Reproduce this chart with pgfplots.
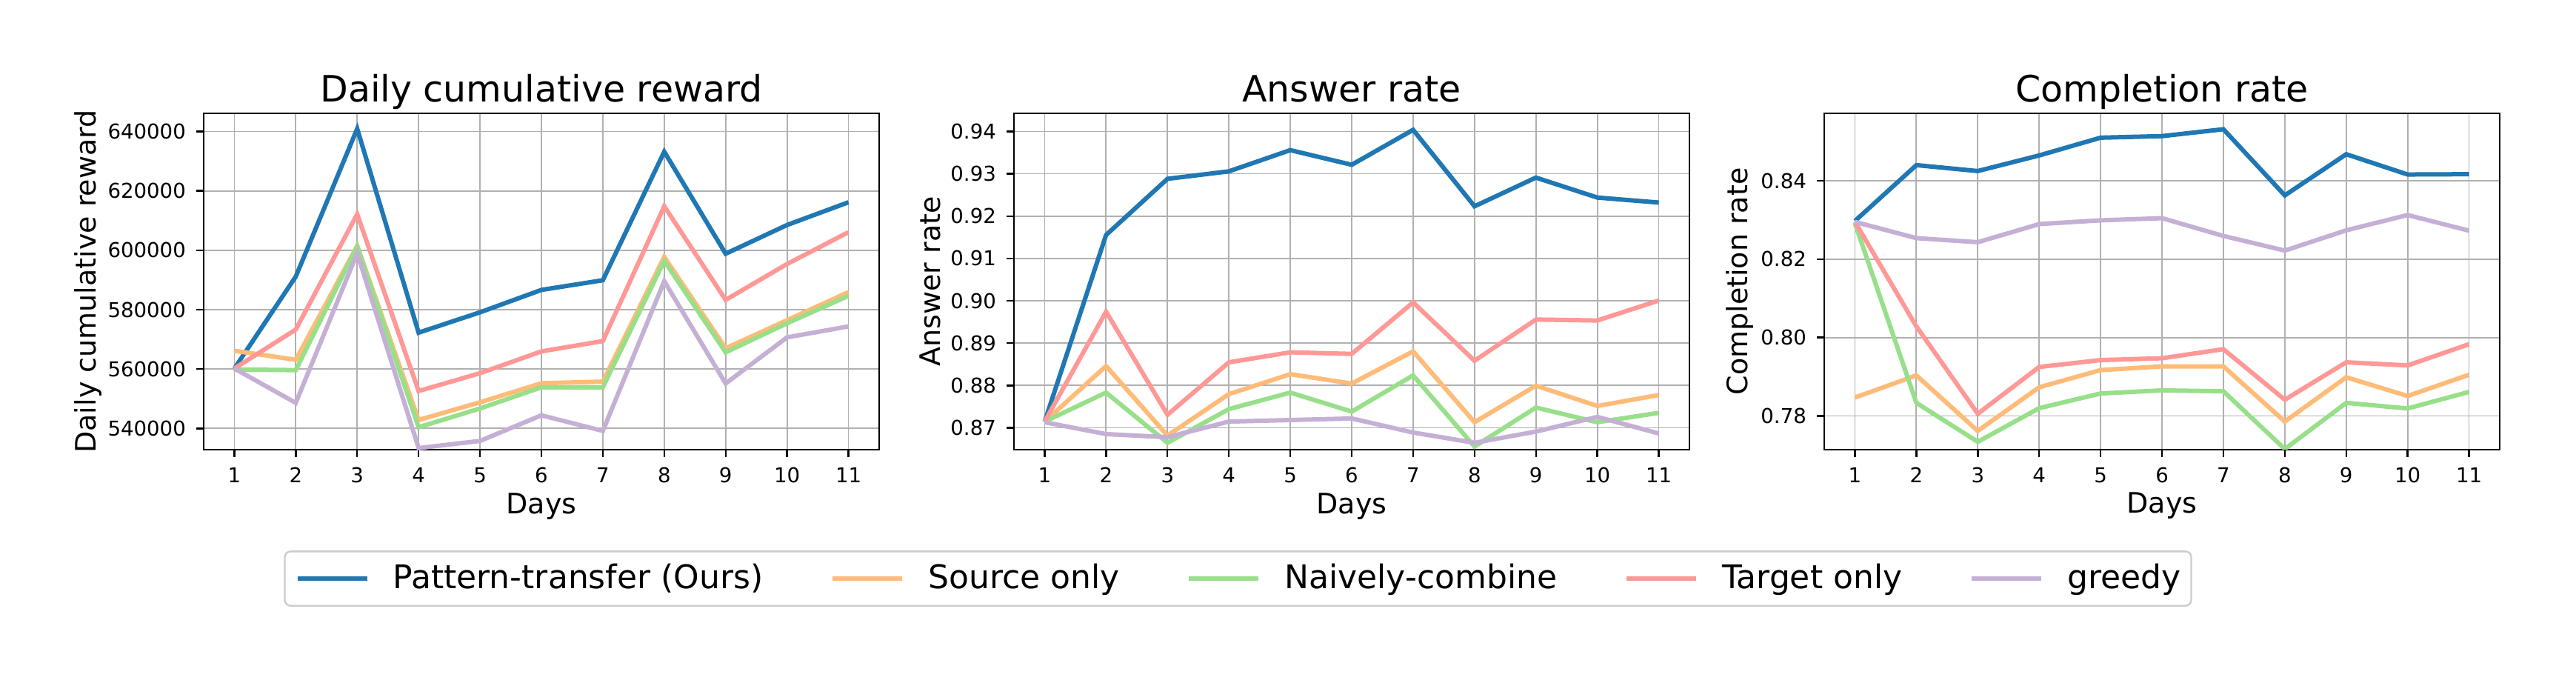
\documentclass[border=0pt]{standalone}
\usepackage{fontspec}
\setmainfont{DejaVu Sans}
\usepackage{pgfplots}
\pgfplotsset{compat=1.18}
\definecolor{cblue}{HTML}{1F77B4}
\definecolor{corange}{HTML}{FFBB78}
\definecolor{cgreen}{HTML}{98DF8A}
\definecolor{cred}{HTML}{FF9896}
\definecolor{cpurple}{HTML}{C5B0D5}
\definecolor{cgrid}{HTML}{B0B0B0}
\pgfplotsset{
 panel/.style={
  scale only axis, width=228pt, height=113.5pt, anchor=north west,
  xmin=0.5, xmax=11.5, xtick={1,...,11},
  grid=major, major grid style={line width=0.45pt, draw=cgrid},
  axis line style={line width=0.65pt},
  tick align=outside, tick pos=left, major tick length=2.5pt,
  every tick/.style={black, line width=0.6pt},
  tick label style={font=\fontsize{6.9}{8}\selectfont},
  /pgf/number format/assume math mode=true,
  title style={font=\fontsize{12.25}{14}\selectfont, anchor=base, at={(axis description cs:0.5,1)}, yshift=-2.25pt},
  xlabel style={font=\fontsize{9.5}{11}\selectfont, at={([yshift=-21.5pt]axis description cs:0.5,0)}, anchor=base},
  xlabel=Days,
  every axis plot/.append style={line width=1.5pt},
 }
}
\begin{document}
\begin{tikzpicture}
\path[use as bounding box] (0,0) rectangle (869.5pt,230.25pt);
% Panel 1
\begin{axis}[panel, at={(68.75pt,192pt)},
  title={Daily cumulative reward},
  ylabel={Daily cumulative reward},
  ylabel style={font=\fontsize{9.5}{11}\selectfont, at={([xshift=-39pt]axis description cs:0,0.5)}, anchor=center},
  ymin=532860, ymax=646090,
  ytick={540000,560000,580000,600000,620000,640000},
  scaled y ticks=false,
  yticklabel style={/pgf/number format/.cd, fixed, 1000 sep={}},
]
\addplot[cblue] coordinates {(1,560170)(2,591150)(3,640900)(4,572250)(5,579100)(6,586640)(7,589900)(8,633170)(9,598830)(10,608500)(11,616150)};
\addplot[corange] coordinates {(1,566160)(2,563110)(3,601500)(4,542840)(5,548800)(6,555230)(7,555760)(8,597770)(9,566990)(10,576450)(11,585900)};
\addplot[cgreen] coordinates {(1,559850)(2,559640)(3,601340)(4,540420)(5,546720)(6,553860)(7,553860)(8,596410)(9,565630)(10,575400)(11,584640)};
\addplot[cred] coordinates {(1,560200)(2,573300)(3,612160)(4,552600)(5,558600)(6,565950)(7,569410)(8,614800)(9,583280)(10,595360)(11,606070)};
\addplot[cpurple] coordinates {(1,560170)(2,548610)(3,599030)(4,533390)(5,535800)(6,544420)(7,539170)(8,589580)(9,555130)(10,570670)(11,574350)};
\end{axis}
% Panel 2
\begin{axis}[panel, at={(342.25pt,192pt)},
  title={Answer rate},
  ylabel={Answer rate},
  ylabel style={font=\fontsize{9.5}{11}\selectfont, at={([xshift=-28.25pt]axis description cs:0,0.5)}, anchor=center},
  ymin=0.86484, ymax=0.94427,
  ytick={0.87,0.88,0.89,0.90,0.91,0.92,0.93,0.94},
  yticklabel style={/pgf/number format/.cd, fixed, fixed zerofill, precision=2},
  legend columns=5,
  legend style={at={(0.3317,-0.3833)}, anchor=center, draw=black!20, rounded corners=2pt, line width=0.6pt,
    inner xsep=3.5pt, inner ysep=4.25pt, font=\fontsize{11}{13}\selectfont, nodes={inner sep=0pt},
    /tikz/every odd column/.append style={column sep=8pt},
    /tikz/every even column/.append style={column sep=22.75pt}},
  legend image code/.code={\draw[#1, line width=1.5pt, sharp corners] (0pt,0pt) -- (23.5pt,0pt);},
]
\addplot[cblue] coordinates {(1,0.87147)(2,0.91554)(3,0.9288)(4,0.93057)(5,0.93558)(6,0.93212)(7,0.94037)(8,0.92232)(9,0.92909)(10,0.92438)(11,0.9232)};
\addplot[corange] coordinates {(1,0.87147)(2,0.88459)(3,0.86816)(4,0.87796)(5,0.88267)(6,0.88046)(7,0.88805)(8,0.87132)(9,0.87995)(10,0.87516)(11,0.87774)};
\addplot[cgreen] coordinates {(1,0.87147)(2,0.87832)(3,0.86646)(4,0.87442)(5,0.87832)(6,0.87383)(7,0.88238)(8,0.86558)(9,0.87479)(10,0.87132)(11,0.87353)};
\addplot[cred] coordinates {(1,0.8715)(2,0.89741)(3,0.87309)(4,0.88547)(5,0.88783)(6,0.88746)(7,0.89962)(8,0.88584)(9,0.89557)(10,0.89535)(11,0.90006)};
\addplot[cpurple] coordinates {(1,0.87132)(2,0.86852)(3,0.86779)(4,0.87147)(5,0.87184)(6,0.87221)(7,0.86889)(8,0.86646)(9,0.86911)(10,0.87258)(11,0.86867)};
\legend{Pattern-transfer (Ours), Source only, Naively-combine, Target only, greedy}
\end{axis}
% Panel 3
\begin{axis}[panel, at={(615.75pt,192pt)},
  title={Completion rate},
  ylabel={Completion rate},
  ylabel style={font=\fontsize{9.5}{11}\selectfont, at={([xshift=-28.5pt]axis description cs:0,0.5)}, anchor=center},
  ymin=0.77141, ymax=0.85719,
  ytick={0.78,0.80,0.82,0.84},
  yticklabel style={/pgf/number format/.cd, fixed, fixed zerofill, precision=2},
]
\addplot[cblue] coordinates {(1,0.82974)(2,0.84398)(3,0.84247)(4,0.84645)(5,0.85098)(6,0.85138)(7,0.85313)(8,0.83626)(9,0.84676)(10,0.84159)(11,0.84167)};
\addplot[corange] coordinates {(1,0.7847)(2,0.79035)(3,0.77618)(4,0.78732)(5,0.7917)(6,0.79265)(7,0.79265)(8,0.77857)(9,0.78987)(10,0.78509)(11,0.79051)};
\addplot[cgreen] coordinates {(1,0.8291)(2,0.78334)(3,0.7734)(4,0.78199)(5,0.78573)(6,0.78653)(7,0.78629)(8,0.77156)(9,0.78334)(10,0.78191)(11,0.78613)};
\addplot[cred] coordinates {(1,0.8295)(2,0.80284)(3,0.78056)(4,0.7925)(5,0.79425)(6,0.79472)(7,0.79703)(8,0.78414)(9,0.79369)(10,0.79289)(11,0.7983)};
\addplot[cpurple] coordinates {(1,0.8295)(2,0.82536)(3,0.82432)(4,0.82894)(5,0.8299)(6,0.83045)(7,0.82592)(8,0.82218)(9,0.82735)(10,0.83125)(11,0.82727)};
\end{axis}
\end{tikzpicture}
\end{document}
